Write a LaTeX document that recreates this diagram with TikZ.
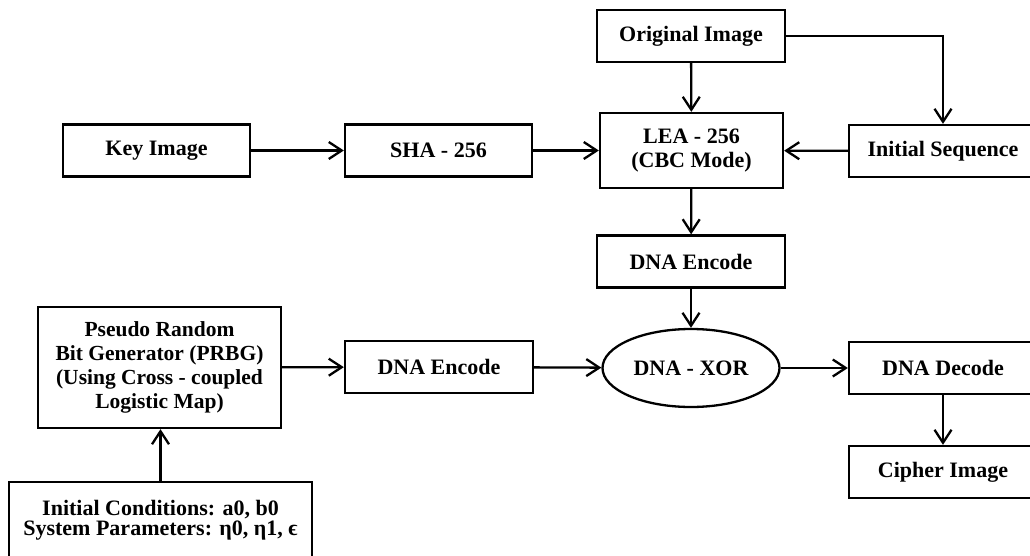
\documentclass[tikz,border=0pt]{standalone}
\usepackage{fontspec}
\setmainfont{Liberation Serif}
\usetikzlibrary{arrows.meta,shapes.geometric}
\begin{document}
\begin{tikzpicture}[x=1pt,y=-1pt,
  lbl/.style={font=\fontsize{22}{24}\selectfont\bfseries},
  box/.style={draw,line width=2.3pt,minimum width=188pt,minimum height=52pt,inner sep=0pt,align=center,lbl},
  arr/.style={line width=2.3pt,-{Straight Barb[length=13pt,width=17pt]}}]
\useasboundingbox (0,0) rectangle (1030,556);
\clip (0,0) rectangle (1030,556);
\node[box] (orig) at (691,36) {Original Image};
\node[box,minimum width=183pt,minimum height=75pt] (lea) at (691.5,150.5) {LEA - 256\\(CBC Mode)};
\node[box] (init) at (943,151) {Initial Sequence};
\node[box,minimum width=187pt] (key) at (156.5,150.5) {Key Image};
\node[box,minimum width=187pt] (sha) at (438.5,150.5) {SHA - 256};
\node[box] (enc1) at (691,261.5) {DNA Encode};
\node[box] (enc2) at (439,367) {DNA Encode};
\node[draw,ellipse,line width=2.3pt,minimum width=177pt,minimum height=78pt,inner sep=0pt,lbl] (xor) at (691,368) {DNA - XOR};
\node[box] (dec) at (943,368) {DNA Decode};
\node[box] (ciph) at (943,472) {Cipher Image};
\node[box,minimum width=243pt,minimum height=121pt,font=\fontsize{21.5}{24}\selectfont\bfseries] (prbg) at (159.5,367.5) {Pseudo Random\\Bit Generator (PRBG)\\(Using Cross - coupled\\Logistic Map)};
\node[box,minimum width=303pt,minimum height=92pt,font=\fontsize{22}{20}\selectfont\bfseries] (cond) at (160.5,528) {Initial Conditions: a0, b0\\System Parameters: η0, η1, ϵ\\~};
\draw[arr] (key) -- (sha);
\draw[arr] (sha) -- (lea);
\draw[arr] (init) -- (lea);
\draw[arr] (orig) -- (lea);
\draw[arr] (orig.east) -| (init.north);
\draw[arr] (lea) -- (enc1);
\draw[arr] (enc1) -- (xor);
\draw[arr] (prbg) -- (enc2);
\draw[arr] (enc2) -- (xor);
\draw[arr] (xor) -- (dec);
\draw[arr] (dec) -- (ciph);
\draw[arr] (cond.north) -- (cond.north |- prbg.south);
\end{tikzpicture}
\end{document}
